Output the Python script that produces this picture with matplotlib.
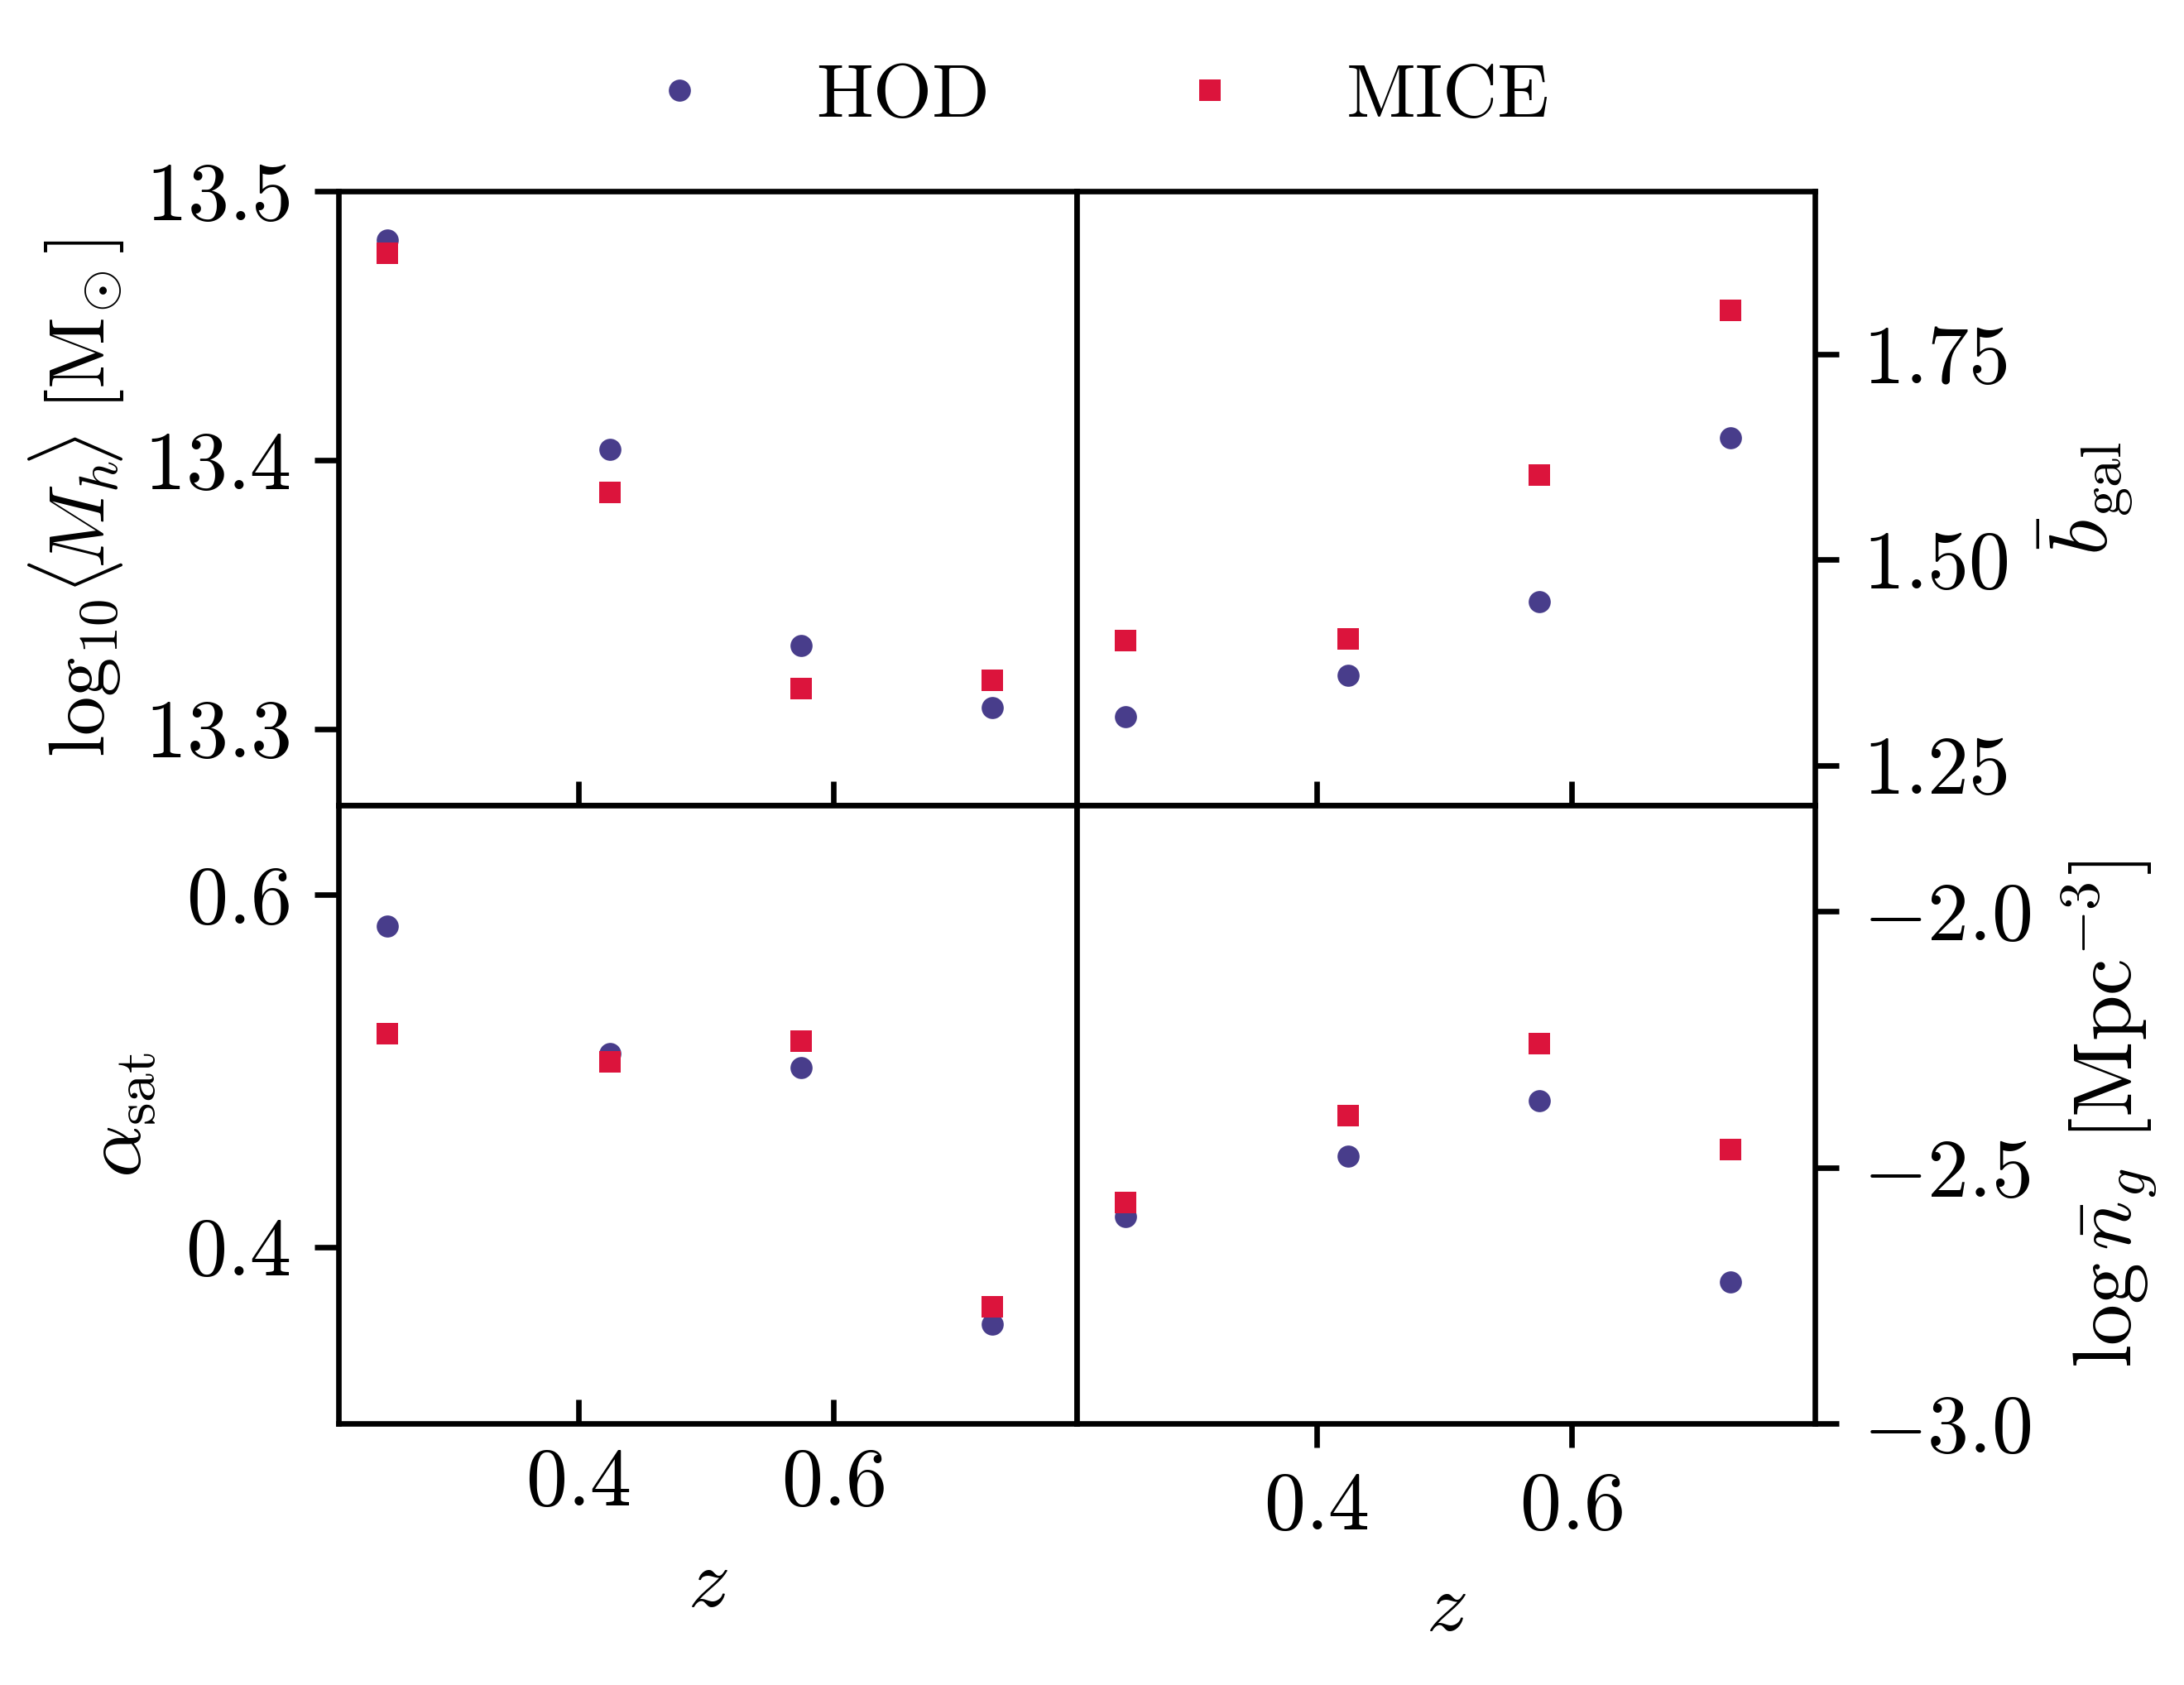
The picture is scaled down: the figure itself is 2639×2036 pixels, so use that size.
import matplotlib
matplotlib.use("Agg")
import matplotlib.pyplot as plt
from matplotlib.lines import Line2D

plt.rcParams.update({
    "font.family": "serif",
    "font.serif": ["cmr10"],
    "mathtext.fontset": "cm",
    "axes.formatter.use_mathtext": True,
    "font.size": 12,
    "axes.linewidth": 0.8,
})

# ── Data ──────────────────────────────────────────────────────────────────────
z = [0.25, 0.425, 0.575, 0.725]

mh_hod  = [13.482, 13.404, 13.331, 13.308]
mh_mice = [13.477, 13.388, 13.315, 13.318]

bgal_hod  = [1.309, 1.359, 1.449, 1.648]
bgal_mice = [1.402, 1.404, 1.603, 1.803]

asat_hod  = [0.582, 0.510, 0.502, 0.356]
asat_mice = [0.521, 0.505, 0.517, 0.366]

ng_hod  = [-2.595, -2.478, -2.370, -2.723]
ng_mice = [-2.568, -2.399, -2.258, -2.465]

HOD_C  = "#483D8B"
MICE_C = "#DC143C"
MS = 3.2

fig = plt.figure(figsize=(2639 / 600, 2036 / 600), dpi=600)
L, M, R = 0.155, 0.493, 0.831
B, C, T = 0.155, 0.522, 0.8865
ax_mh   = fig.add_axes([L, C, M - L, T - C])
ax_b    = fig.add_axes([M, C, R - M, T - C])
ax_a    = fig.add_axes([L, B, M - L, C - B])
ax_n    = fig.add_axes([M, B, R - M, C - B])

panels = [
    (ax_mh, mh_hod, mh_mice),
    (ax_b, bgal_hod, bgal_mice),
    (ax_a, asat_hod, asat_mice),
    (ax_n, ng_hod, ng_mice),
]
for ax, hod, mice in panels:
    ax.plot(z, hod, "o", color=HOD_C, ms=MS, mew=0, label="HOD")
    ax.plot(z, mice, "s", color=MICE_C, ms=MS, mew=0, label="MICE")
    ax.set_xlim(0.212, 0.791)
    ax.set_xticks([0.4, 0.6])

# top-left
ax_mh.set_ylim(13.2715, 13.5)
ax_mh.set_yticks([13.3, 13.4, 13.5])
ax_mh.set_ylabel(r"$\log_{10}\!\langle\!M_h\!\rangle\;[\mathrm{M}_{\!\odot}]$",
                 fontsize=11.4, labelpad=2.5)
ax_mh.tick_params(axis="x", direction="in", labelbottom=False)

# top-right
ax_b.set_ylim(1.201, 1.948)
ax_b.set_yticks([1.25, 1.50, 1.75])
ax_b.yaxis.tick_right()
ax_b.yaxis.set_label_position("right")
ax_b.set_ylabel(r"$\bar{b}_{\mathrm{gal}}$")
ax_b.tick_params(axis="x", direction="in", labelbottom=False)

# bottom-left
ax_a.set_ylim(0.2996, 0.6506)
ax_a.set_yticks([0.4, 0.6])
ax_a.set_ylabel(r"$\alpha_{\mathrm{sat}}$")
ax_a.set_xlabel(r"$z$")
ax_a.tick_params(axis="x", direction="in")

# bottom-right
ax_n.set_ylim(-3.0, -1.793)
ax_n.set_yticks([-3.0, -2.5, -2.0])
ax_n.yaxis.tick_right()
ax_n.yaxis.set_label_position("right")
ax_n.set_ylabel(r"$\log\bar{n}_g\ [\mathrm{Mpc}^{-3}]$")
ax_n.set_xlabel(r"$z$")
ax_n.tick_params(axis="x", direction="out")

handles = [
    Line2D([], [], marker="o", ls="", color=HOD_C, ms=MS, mew=0),
    Line2D([], [], marker="s", ls="", color=MICE_C, ms=MS, mew=0),
]
fig.legend(handles, ["HOD", "MICE"], loc="center", bbox_to_anchor=(M, 0.942),
           ncol=2, frameon=False, fontsize=11, handletextpad=0.8,
           columnspacing=1.9, borderpad=0)

fig.savefig("out.png", dpi=600)
